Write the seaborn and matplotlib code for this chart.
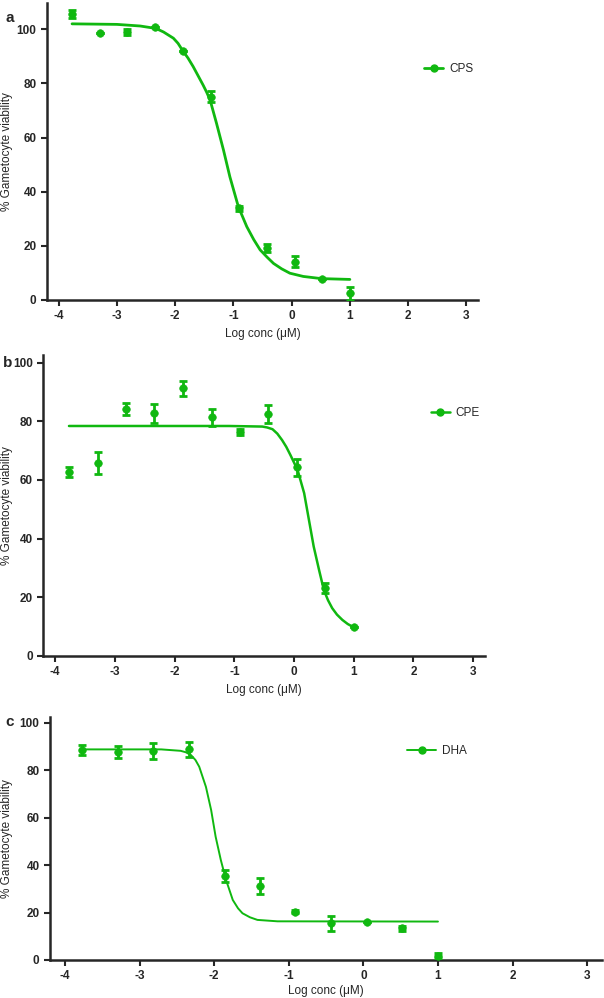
import numpy as np
import pandas as pd
import seaborn as sns
import matplotlib.pyplot as plt
from matplotlib.lines import Line2D

# log concentration (uM) of the 11-point 1:3 dilution series
log_conc = [-3.77, -3.29, -2.82, -2.34, -1.86, -1.38, -0.91, -0.43, 0.05, 0.52, 1.0]

# CPS
cps_mean = [105.6, 98.8, 99.1, 100.7, 92.1, 75.1, 33.9, 19.1, 14.2, 7.9, 2.5]
cps_err = [1.5, 0.0, 1.1, 0.0, 0.0, 2.0, 1.0, 1.5, 1.9, 0.0, 2.4]
cps_fit_x = [-3.77, -3.0, -2.6, -2.33, -2.2, -2.03, -1.95, -1.87, -1.78, -1.69, -1.6, -1.52,
             -1.46, -1.40, -1.29, -1.17, -1.06, -0.915, -0.77, -0.65, -0.54, -0.42, -0.31,
             -0.17, -0.03, 0.2, 0.51, 1.0]
cps_fit_y = [102.0, 101.8, 101.2, 100.3, 99.0, 96.7, 94.8, 92.1, 89.4, 86.2, 82.6, 79.4,
             76.8, 73.9, 65.3, 55.4, 45.5, 34.5, 27.1, 22.3, 18.5, 15.8, 13.5,
             11.5, 9.9, 8.7, 7.9, 7.6]

# CPE
cpe_mean = [62.8, 65.9, 84.3, 82.7, 91.3, 81.3, 76.4, 82.5, 64.3, 23.3, 9.8]
cpe_err = [1.7, 3.8, 2.0, 3.2, 2.6, 3.0, 1.0, 3.2, 3.0, 1.7, 0.0]
cpe_fit_x = [-3.77, -1.09, -0.53, -0.45, -0.36, -0.28, -0.2, -0.13, -0.06, 0.06, 0.17,
             0.25, 0.33, 0.42, 0.50, 0.57, 0.64, 0.72, 0.81, 0.9, 0.98]
cpe_fit_y = [78.4, 78.4, 78.2, 77.9, 77.3, 75.8, 73.6, 71.3, 68.5, 63.4, 55.5,
             46.4, 37.3, 29.3, 22.5, 19.0, 16.3, 14.1, 12.3, 10.9, 10.0]

# DHA
dha_mean = [88.5, 87.8, 88.2, 88.8, 35.4, 31.2, 20.4, 15.5, 15.9, 13.4, 1.8]
dha_err = [2.0, 2.6, 3.5, 3.0, 2.4, 3.4, 0.7, 3.2, 0.0, 1.0, 1.0]
dha_fit_x = [-3.77, -2.71, -2.45, -2.38, -2.31, -2.25, -2.20, -2.11, -2.04, -1.98, -1.91,
             -1.84, -1.75, -1.68, -1.62, -1.52, -1.42, -1.15, 1.0]
dha_fit_y = [88.8, 88.8, 88.2, 87.6, 86.4, 84.3, 81.5, 73.0, 63.2, 52.0, 42.1,
             33.7, 25.3, 21.8, 19.7, 18.0, 16.9, 16.3, 16.2]

green = '#10b810'

sns.set_style('ticks')
plt.rcParams['font.family'] = ['Liberation Sans', 'DejaVu Sans']
plt.rcParams['axes.unicode_minus'] = False

fig = plt.figure(figsize=(6.04, 9.98), dpi=100)

panels = [
    # letter, name, mean, err, fit x, fit y, axes rect, ylim top, lw,
    # legend anchor, handle length, ylabel x, letter pos, xlabel pad
    ('a', 'CPS', cps_mean, cps_err, cps_fit_x, cps_fit_y,
     [0.0778, 0.6994, 0.7136, 0.2976], 109.7, 2.0, (0.851, 0.778), 1.6, -0.079,
     (0.0166, 0.982), 4),
    ('b', 'CPE', cpe_mean, cpe_err, cpe_fit_x, cpe_fit_y,
     [0.0717, 0.3427, 0.7313, 0.3016], 102.6, 1.8, (0.853, 0.806), 1.6, -0.069,
     (0.013, 0.6363), 4),
    ('c', 'DHA', dha_mean, dha_err, dha_fit_x, dha_fit_y,
     [0.0828, 0.0381, 0.9140, 0.2438], 102.6, 1.4, (0.627, 0.86), 2.5, -0.067,
     (0.0166, 0.2766), 2),
]

for letter, name, mean, err, fx, fy, rect, ytop, lw, legpos, hlen, ylx, letpos, xpad in panels:
    ax = fig.add_axes(rect)
    fit = pd.DataFrame({'x': fx, 'y': fy})
    pts = pd.DataFrame({'x': log_conc, 'y': mean, 'err': err})

    sns.lineplot(data=fit, x='x', y='y', ax=ax, color=green, lw=lw,
                 sort=False, estimator=None)
    ax.errorbar(pts['x'], pts['y'], yerr=pts['err'], fmt='none', ecolor=green,
                elinewidth=2, capsize=3, capthick=2, zorder=3)
    sns.scatterplot(data=pts, x='x', y='y', ax=ax, color=green, s=30,
                    edgecolor=green, zorder=4)

    ax.set_xlim(-4.2, 3.2)
    ax.set_ylim(0, ytop)
    ax.set_xticks(range(-4, 4))
    ax.set_yticks(range(0, 101, 20))
    ax.tick_params(labelsize=8.5, width=1.5, length=4, direction='out')
    for lab in ax.get_xticklabels() + ax.get_yticklabels():
        lab.set_fontweight('bold')
    for s in ['left', 'bottom']:
        ax.spines[s].set_linewidth(1.8)
    sns.despine(ax=ax)

    ax.set_xlabel('Log conc (\u03bcM)', fontsize=8.5, labelpad=xpad)
    ax.set_ylabel('% Gametocyte viability', fontsize=8.5)
    ax.yaxis.set_label_coords(ylx, 0.5)

    handle = Line2D([], [], color=green, lw=lw, marker='o', markersize=5)
    ax.legend([handle], [name], loc='center left', bbox_to_anchor=legpos,
              frameon=False, fontsize=8.5, handlelength=hlen, handletextpad=0.5)

    fig.text(letpos[0], letpos[1], letter, fontsize=11, fontweight='bold',
             ha='center', va='center')

plt.savefig('out.png', dpi=100)
